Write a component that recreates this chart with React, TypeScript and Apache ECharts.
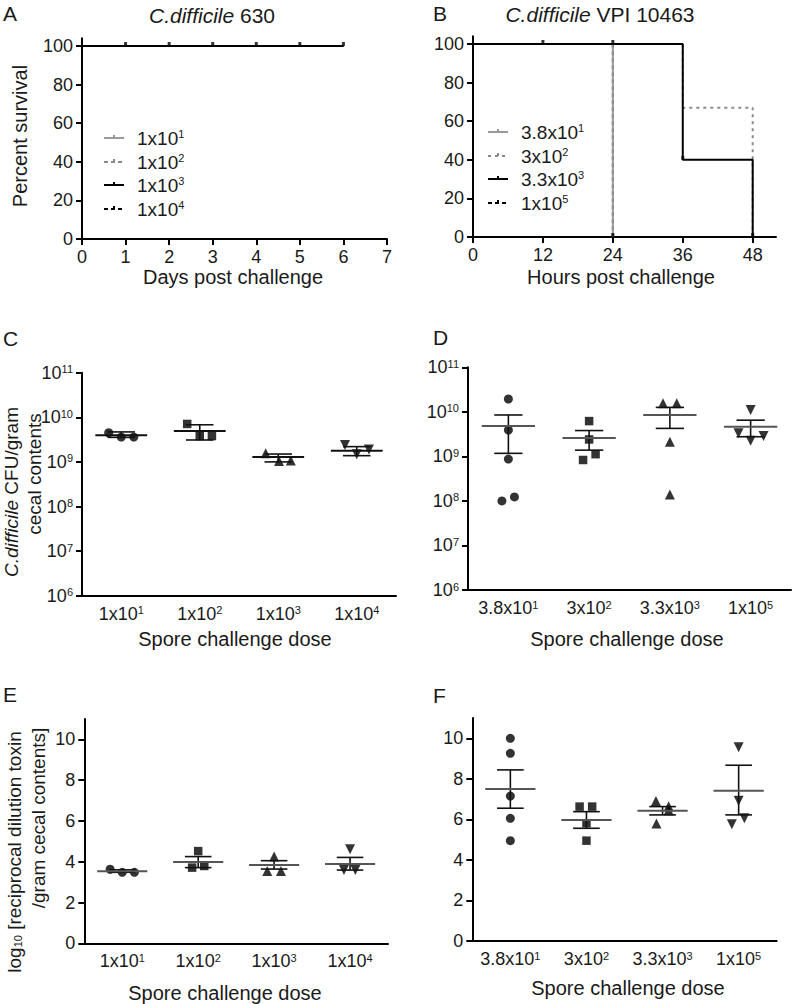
import React, { useEffect, useRef } from "react";
import * as echarts from "echarts";

const FONT = '"Liberation Sans", Arial, Helvetica, sans-serif';
const INK = "#1a1a1a";

// ---------- Panel A : C. difficile 630, survival (days) ----------
const daysTicks = [0, 1, 2, 3, 4, 5, 6, 7];
const survivalTicks = [0, 20, 40, 60, 80, 100];
const labelsA = ["1x10^1", "1x10^2", "1x10^3", "1x10^4"];
const survA_1e1 = [[0, 100], [6, 100]];
const survA_1e2 = [[0, 100], [6, 100]];
const survA_1e3 = [[0, 100], [6, 100]];
const survA_1e4 = [[0, 100], [6, 100]];
const censorA = [[1, 100], [2, 100], [3, 100], [4, 100], [5, 100], [6, 100]];

// ---------- Panel B : C. difficile VPI 10463, survival (hours) ----------
const hoursTicks = [0, 12, 24, 36, 48];
const labelsB = ["3.8x10^1", "3x10^2", "3.3x10^3", "1x10^5"];
const survB_38e1 = [[0, 100], [24, 0]];
const survB_3e2 = [[0, 100], [36, 67], [48, 0]];
const survB_33e3 = [[0, 100], [36, 40], [48, 0]];
const survB_1e5 = [[0, 100], [24, 0]];
const censorB = [[12, 100], [24, 100], [24, 0], [36, 40], [48, 0]];

// ---------- Panel C : CFU / gram, strain 630 ----------
const dosesC = ["1x10^1", "1x10^2", "1x10^3", "1x10^4"];
const cfuC = [
  [4.5e9, 3.6e9, 3.6e9],
  [7.1e9, 3.8e9, 3.8e9],
  [1.56e9, 1.05e9, 1.08e9],
  [2.4e9, 1.48e9, 1.9e9],
];
const jitterC = [
  [-0.16, 0, 0.16],
  [-0.16, 0, 0.155],
  [-0.16, 0.01, 0.16],
  [-0.15, 0, 0.155],
];
const meanC = [3.95e9, 4.93e9, 1.29e9, 1.78e9];
const semHiC = [4.7e9, 6.8e9, 1.5e9, 2.2e9];
const semLoC = [3.55e9, 3.1e9, 1.0e9, 1.38e9];

// ---------- Panel D : CFU / gram, strain VPI 10463 ----------
const dosesD = ["3.8x10^1", "3x10^2", "3.3x10^3", "1x10^5"];
const cfuD = [
  [1.94e10, 3.9e9, 8.7e8, 1.0e8, 1.23e8],
  [6.2e9, 2.4e9, 8.3e8, 1.12e9],
  [1.55e10, 1.55e10, 2.13e9, 1.4e8],
  [1.1e10, 3.3e9, 2.24e9, 2.86e9],
];
const jitterD = [
  [0, 0, 0, -0.08, 0.075],
  [0, 0, -0.075, 0.08],
  [-0.085, 0.085, 0, 0],
  [0, -0.15, 0, 0.16],
];
const meanD = [4.8e9, 2.58e9, 8.5e9, 4.6e9];
const semHiD = [8.5e9, 3.8e9, 1.26e10, 6.5e9];
const semLoD = [1.17e9, 1.38e9, 4.25e9, 2.76e9];

// ---------- Panel E : toxin titre, strain 630 ----------
const toxinTicks = [0, 2, 4, 6, 8, 10];
const toxE = [
  [3.63, 3.48, 3.48],
  [4.52, 3.71, 3.79],
  [4.25, 3.54, 3.54],
  [4.61, 3.59, 3.59],
];
const jitterE = [
  [-0.16, 0, 0.16],
  [0, -0.08, 0.08],
  [0, -0.09, 0.09],
  [0, -0.08, 0.07],
];
const meanE = [3.53, 3.99, 3.84, 3.89];
const semHiE = [3.6, 4.25, 4.05, 4.21];
const semLoE = [3.48, 3.71, 3.64, 3.59];

// ---------- Panel F : toxin titre, strain VPI 10463 ----------
const toxF = [
  [10.0, 9.26, 7.15, 6.05, 4.95],
  [6.63, 6.63, 5.81, 4.95],
  [6.9, 6.65, 6.45, 5.8],
  [9.56, 6.92, 5.76, 6.05],
];
const jitterF = [
  [0, 0, 0, 0, 0],
  [-0.09, 0.075, 0, 0],
  [-0.087, 0.08, 0.08, -0.08],
  [0, 0, -0.09, 0.075],
];
const meanF = [7.5, 5.97, 6.43, 7.41];
const semHiF = [8.44, 6.38, 6.63, 8.67];
const semLoF = [6.55, 5.56, 6.22, 6.22];

// ---------- helpers ----------
const sup = (label: string) => {
  const [b, e] = label.split("^");
  return `{b|${b}}{s|${e}}`;
};
const richLabel = {
  b: { fontSize: 18, fontFamily: FONT, color: INK },
  s: { fontSize: 11, fontFamily: FONT, color: INK, verticalAlign: "top" as const },
};

const axisLineStyle = { onZero: false, lineStyle: { color: "#000", width: 2 } };
const tickStyle = (extra: any = {}) => ({ length: 6, lineStyle: { color: "#000", width: 2 }, ...extra });
const labelStyle = (extra: any = {}) => ({ color: INK, fontSize: 18, fontFamily: FONT, margin: 9, ...extra });

const markers = [
  { symbol: "circle", size: 9, rotate: 0 },
  { symbol: "rect", size: 8.5, rotate: 0 },
  { symbol: "triangle", size: 10, rotate: 0 },
  { symbol: "triangle", size: 10, rotate: 180 },
];

function dotSeries(xi: number, yi: number, values: number[][], jitter: number[][]) {
  return values.map((grp, i) => ({
    type: "scatter",
    xAxisIndex: xi,
    yAxisIndex: yi,
    symbol: markers[i].symbol,
    symbolSize: markers[i].size,
    symbolRotate: markers[i].rotate,
    itemStyle: { color: "#000" },
    z: 3,
    data: grp.map((v, j) => [i + jitter[i][j], v]),
  }));
}

function errSeries(xi: number, yi: number, mean: number[], lo: number[], hi: number[], meanColor: string) {
  return {
    type: "custom",
    xAxisIndex: xi,
    yAxisIndex: yi,
    z: 4,
    encode: { x: 0, y: 1 },
    data: mean.map((m, i) => [i, m, lo[i], hi[i]]),
    renderItem: (params: any, api: any) => {
      const x = api.value(0);
      const m = api.value(1);
      const pm = api.coord([x, m]);
      const pl = api.coord([x, api.value(2)]);
      const ph = api.coord([x, api.value(3)]);
      const band = api.coord([x + 1, m])[0] - pm[0];
      const mh = band * 0.33;
      const ch = band * 0.175;
      const ws = { stroke: "#111", lineWidth: 1.6 };
      return {
        type: "group",
        children: [
          { type: "line", shape: { x1: pm[0], y1: pl[1], x2: pm[0], y2: ph[1] }, style: ws },
          { type: "line", shape: { x1: pm[0] - ch, y1: pl[1], x2: pm[0] + ch, y2: pl[1] }, style: ws },
          { type: "line", shape: { x1: pm[0] - ch, y1: ph[1], x2: pm[0] + ch, y2: ph[1] }, style: ws },
          { type: "line", shape: { x1: pm[0] - mh, y1: pm[1], x2: pm[0] + mh, y2: pm[1] }, style: { stroke: meanColor, lineWidth: 2 } },
        ],
      };
    },
  };
}

function survLine(xi: number, data: number[][], color: string, dash: any, z: number) {
  return {
    type: "line",
    xAxisIndex: xi,
    yAxisIndex: xi,
    step: "end",
    symbol: "none",
    z,
    lineStyle: { color, width: 2, type: dash },
    data,
  };
}

function censor(xi: number, data: number[][]) {
  return {
    type: "scatter",
    xAxisIndex: xi,
    yAxisIndex: xi,
    symbol: "rect",
    symbolSize: [3, 4],
    symbolOffset: [0, -2],
    itemStyle: { color: "#000" },
    z: 6,
    data,
  };
}

function catAxis(grid: number, cats: string[]) {
  return {
    type: "category",
    gridIndex: grid,
    data: cats,
    boundaryGap: true,
    axisLine: axisLineStyle,
    axisTick: tickStyle({ alignWithLabel: true }),
    axisLabel: labelStyle({ formatter: (v: string) => sup(v), rich: richLabel, interval: 0 }),
    splitLine: { show: false },
  };
}
function hiddenX(grid: number) {
  return { type: "value", gridIndex: grid, min: -0.5, max: 3.5, show: false, splitLine: { show: false } };
}

function txt(x: number, y: number, text: string, size: number, opt: any = {}) {
  const { rotation = 0, align = "center", vAlign = "middle", rich, fill = INK } = opt;
  return {
    type: "text",
    x,
    y,
    rotation,
    style: {
      text,
      fill,
      fontSize: size,
      fontFamily: FONT,
      align,
      textAlign: align,
      verticalAlign: vAlign,
      textVerticalAlign: vAlign,
      rich,
    },
  };
}

function legend(x0: number, rows: number[], labels: string[], styles: { color: string; dash: number[] | null }[]) {
  const els: any[] = [];
  labels.forEach((lab, i) => {
    const y = rows[i];
    const st = styles[i];
    els.push({
      type: "line",
      shape: { x1: x0, y1: y, x2: x0 + 20, y2: y },
      style: { stroke: st.color, lineWidth: 2, lineDash: st.dash || undefined },
    });
    els.push({
      type: "line",
      shape: { x1: x0 + 10, y1: y - 3, x2: x0 + 10, y2: y },
      style: { stroke: st.color, lineWidth: 2 },
    });
    els.push(
      txt(x0 + 33, y, sup(lab), 19, {
        align: "left",
        rich: {
          b: { fontSize: 19, fontFamily: FONT, fill: INK },
          s: { fontSize: 11, fontFamily: FONT, fill: INK, verticalAlign: "top" },
        },
      })
    );
  });
  return els;
}

const ital = (size: number) => ({ i: { fontStyle: "italic", fontFamily: FONT, fontSize: size, fill: INK } });

export default function App() {
  const ref = useRef<HTMLDivElement>(null);
  useEffect(() => {
    if (!ref.current) return;
    const chart = echarts.init(ref.current, null, { renderer: "svg" });
    const stA = [
      { color: "#9a9a9a", dash: null },
      { color: "#8a8a8a", dash: [4, 3] },
      { color: "#000", dash: null },
      { color: "#000", dash: [4, 3] },
    ];
    const stB = [
      { color: "#9a9a9a", dash: null },
      { color: "#8a8a8a", dash: [3, 4] },
      { color: "#000", dash: null },
      { color: "#000", dash: [4, 3] },
    ];
    const option: any = {
      animation: false,
      backgroundColor: "#fff",
      grid: [
        { left: 82, top: 38.3, width: 305, height: 200.7, outerBoundsMode: "none" },
        { left: 473, top: 36.3, width: 303, height: 200.7, outerBoundsMode: "none" },
        { left: 82, top: 372.7, width: 314, height: 223, outerBoundsMode: "none" },
        { left: 468, top: 367.3, width: 323, height: 222.7, outerBoundsMode: "none" },
        { left: 84.3, top: 718.9, width: 303.7, height: 224.4, outerBoundsMode: "none" },
        { left: 472.3, top: 718, width: 304.4, height: 223, outerBoundsMode: "none" },
      ],
      xAxis: [
        {
          type: "value", gridIndex: 0, min: daysTicks[0], max: daysTicks[daysTicks.length - 1], interval: 1,
          axisLine: axisLineStyle, axisTick: tickStyle(), axisLabel: labelStyle(), splitLine: { show: false },
        },
        {
          type: "value", gridIndex: 1, min: 0, max: 52,
          axisLine: axisLineStyle, axisTick: tickStyle({ customValues: hoursTicks }),
          axisLabel: labelStyle({ customValues: hoursTicks }), splitLine: { show: false },
        },
        catAxis(2, dosesC), hiddenX(2),
        catAxis(3, dosesD), hiddenX(3),
        catAxis(4, dosesC), hiddenX(4),
        catAxis(5, dosesD), hiddenX(5),
      ],
      yAxis: [0, 1].map((g) => ({
        type: "value", gridIndex: g, min: 0, max: 104,
        axisLine: axisLineStyle, axisTick: tickStyle({ customValues: survivalTicks }),
        axisLabel: labelStyle({ customValues: survivalTicks }), splitLine: { show: false },
      })).concat(
        [2, 3].map((g) => ({
          type: "log", gridIndex: g, logBase: 10, min: 1e6, max: 1e11,
          axisLine: axisLineStyle, axisTick: tickStyle(),
          axisLabel: labelStyle({
            formatter: (v: number) => `{b|10}{s|${Math.round(Math.log10(v))}}`,
            rich: richLabel,
          }),
          splitLine: { show: false },
        })) as any,
        [4, 5].map((g) => ({
          type: "value", gridIndex: g, min: 0, max: 11,
          axisLine: axisLineStyle, axisTick: tickStyle({ customValues: toxinTicks }),
          axisLabel: labelStyle({ customValues: toxinTicks }), splitLine: { show: false },
        })) as any
      ),
      series: [
        survLine(0, survA_1e1, "#9a9a9a", "solid", 2),
        survLine(0, survA_1e2, "#8a8a8a", [4, 3], 2),
        survLine(0, survA_1e4, "#000", [4, 3], 2),
        survLine(0, survA_1e3, "#000", "solid", 3),
        censor(0, censorA),
        survLine(1, survB_3e2, "#8a8a8a", [3, 4], 2),
        survLine(1, survB_1e5, "#000", [4, 3], 3),
        survLine(1, survB_38e1, "#9a9a9a", "solid", 4),
        survLine(1, survB_33e3, "#000", "solid", 5),
        censor(1, censorB),
        ...dotSeries(3, 2, cfuC, jitterC),
        errSeries(3, 2, meanC, semLoC, semHiC, "#111"),
        ...dotSeries(5, 3, cfuD, jitterD),
        errSeries(5, 3, meanD, semLoD, semHiD, "#555"),
        ...dotSeries(7, 4, toxE, jitterE),
        errSeries(7, 4, meanE, semLoE, semHiE, "#555"),
        ...dotSeries(9, 5, toxF, jitterF),
        errSeries(9, 5, meanF, semLoF, semHiF, "#555"),
      ],
      graphic: [
        // panel letters
        txt(3, 13, "A", 21, { align: "left" }),
        txt(433, 13, "B", 21, { align: "left" }),
        txt(3, 338, "C", 21, { align: "left" }),
        txt(433, 337, "D", 21, { align: "left" }),
        txt(3, 694, "E", 21, { align: "left" }),
        txt(433, 695, "F", 21, { align: "left" }),
        // titles
        txt(212, 15, "{i|C.difficile} 630", 21, { rich: ital(21) }),
        txt(600, 14, "{i|C.difficile} VPI 10463", 21, { rich: ital(21) }),
        // axis titles
        txt(20, 136, "Percent survival", 20, { rotation: Math.PI / 2 }),
        txt(233, 277, "Days post challenge", 20),
        txt(621, 277, "Hours post challenge", 20),
        txt(11, 492, "{i|C.difficile} CFU/gram", 19, { rotation: Math.PI / 2, rich: ital(19) }),
        txt(34, 474, "cecal contents", 19, { rotation: Math.PI / 2 }),
        txt(235, 639, "Spore challenge dose", 20),
        txt(627, 639, "Spore challenge dose", 20),
        txt(14, 852, "log{sub|10} [reciprocal dilution toxin", 19, {
          rotation: Math.PI / 2,
          rich: { sub: { fontSize: 11, fontFamily: FONT, fill: INK, verticalAlign: "bottom" } },
        }),
        txt(38, 818, "/gram cecal contents]", 19, { rotation: Math.PI / 2 }),
        txt(225, 993, "Spore challenge dose", 20),
        txt(628, 988, "Spore challenge dose", 20),
        // legends
        ...legend(104, [138, 162, 185, 209], labelsA, stA),
        ...legend(488, [132, 156, 179, 203], labelsB, stB),
      ],
    };
    chart.setOption(option);
    return () => chart.dispose();
  }, []);
  return (
    <div
      ref={ref}
      style={{ position: "absolute", left: 0, top: 0, width: 796, height: 1004, background: "#fff" }}
    />
  );
}
